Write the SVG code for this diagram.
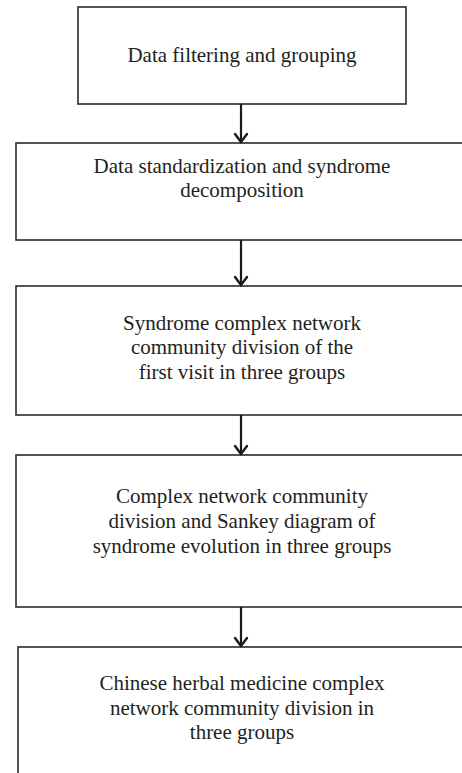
<svg xmlns="http://www.w3.org/2000/svg" width="462" height="773" viewBox="0 0 462 773">
<style>
.box{fill:#fff;stroke:#2b2b2b;stroke-width:1.6}
.t{font-family:"Liberation Serif","Times New Roman",serif;font-size:21px;fill:#231f20;text-anchor:middle}
.c{stroke:#1a1a1a;stroke-width:2.2;fill:none}
.h{stroke:#1a1a1a;stroke-width:2.4;fill:none;stroke-linecap:round;stroke-linejoin:miter}
</style>
<rect width="462" height="773" fill="#fff"/>
<g id="n1"><rect class="box" x="78" y="7" width="328" height="97"/>
<text class="t" x="242" y="62">Data filtering and grouping</text></g>
<g id="n2"><rect class="box" x="16" y="143" width="460" height="97"/>
<text class="t" x="242" y="173">Data standardization and syndrome</text>
<text class="t" x="242" y="197">decomposition</text></g>
<g id="n3"><rect class="box" x="16" y="286" width="460" height="129"/>
<text class="t" x="242" y="330">Syndrome complex network</text>
<text class="t" x="242" y="354">community division of the</text>
<text class="t" x="242" y="379">first visit in three groups</text></g>
<g id="n4"><rect class="box" x="16" y="455" width="460" height="152"/>
<text class="t" x="242" y="503">Complex network community</text>
<text class="t" x="242" y="528">division and Sankey diagram of</text>
<text class="t" x="242" y="553">syndrome evolution in three groups</text></g>
<g id="n5"><rect class="box" x="18" y="647" width="460" height="140"/>
<text class="t" x="242" y="690">Chinese herbal medicine complex</text>
<text class="t" x="242" y="715">network community division in</text>
<text class="t" x="242" y="739">three groups</text></g>
<g id="connectors">
<path class="c" d="M241 104V141"/><path class="h" d="M235 134L241 142L247 134"/>
<path class="c" d="M241 240V284"/><path class="h" d="M235 277L241 285L247 277"/>
<path class="c" d="M241 415V453"/><path class="h" d="M235 446L241 454L247 446"/>
<path class="c" d="M241 607V645"/><path class="h" d="M235 638L241 646L247 638"/>
</g>
</svg>
